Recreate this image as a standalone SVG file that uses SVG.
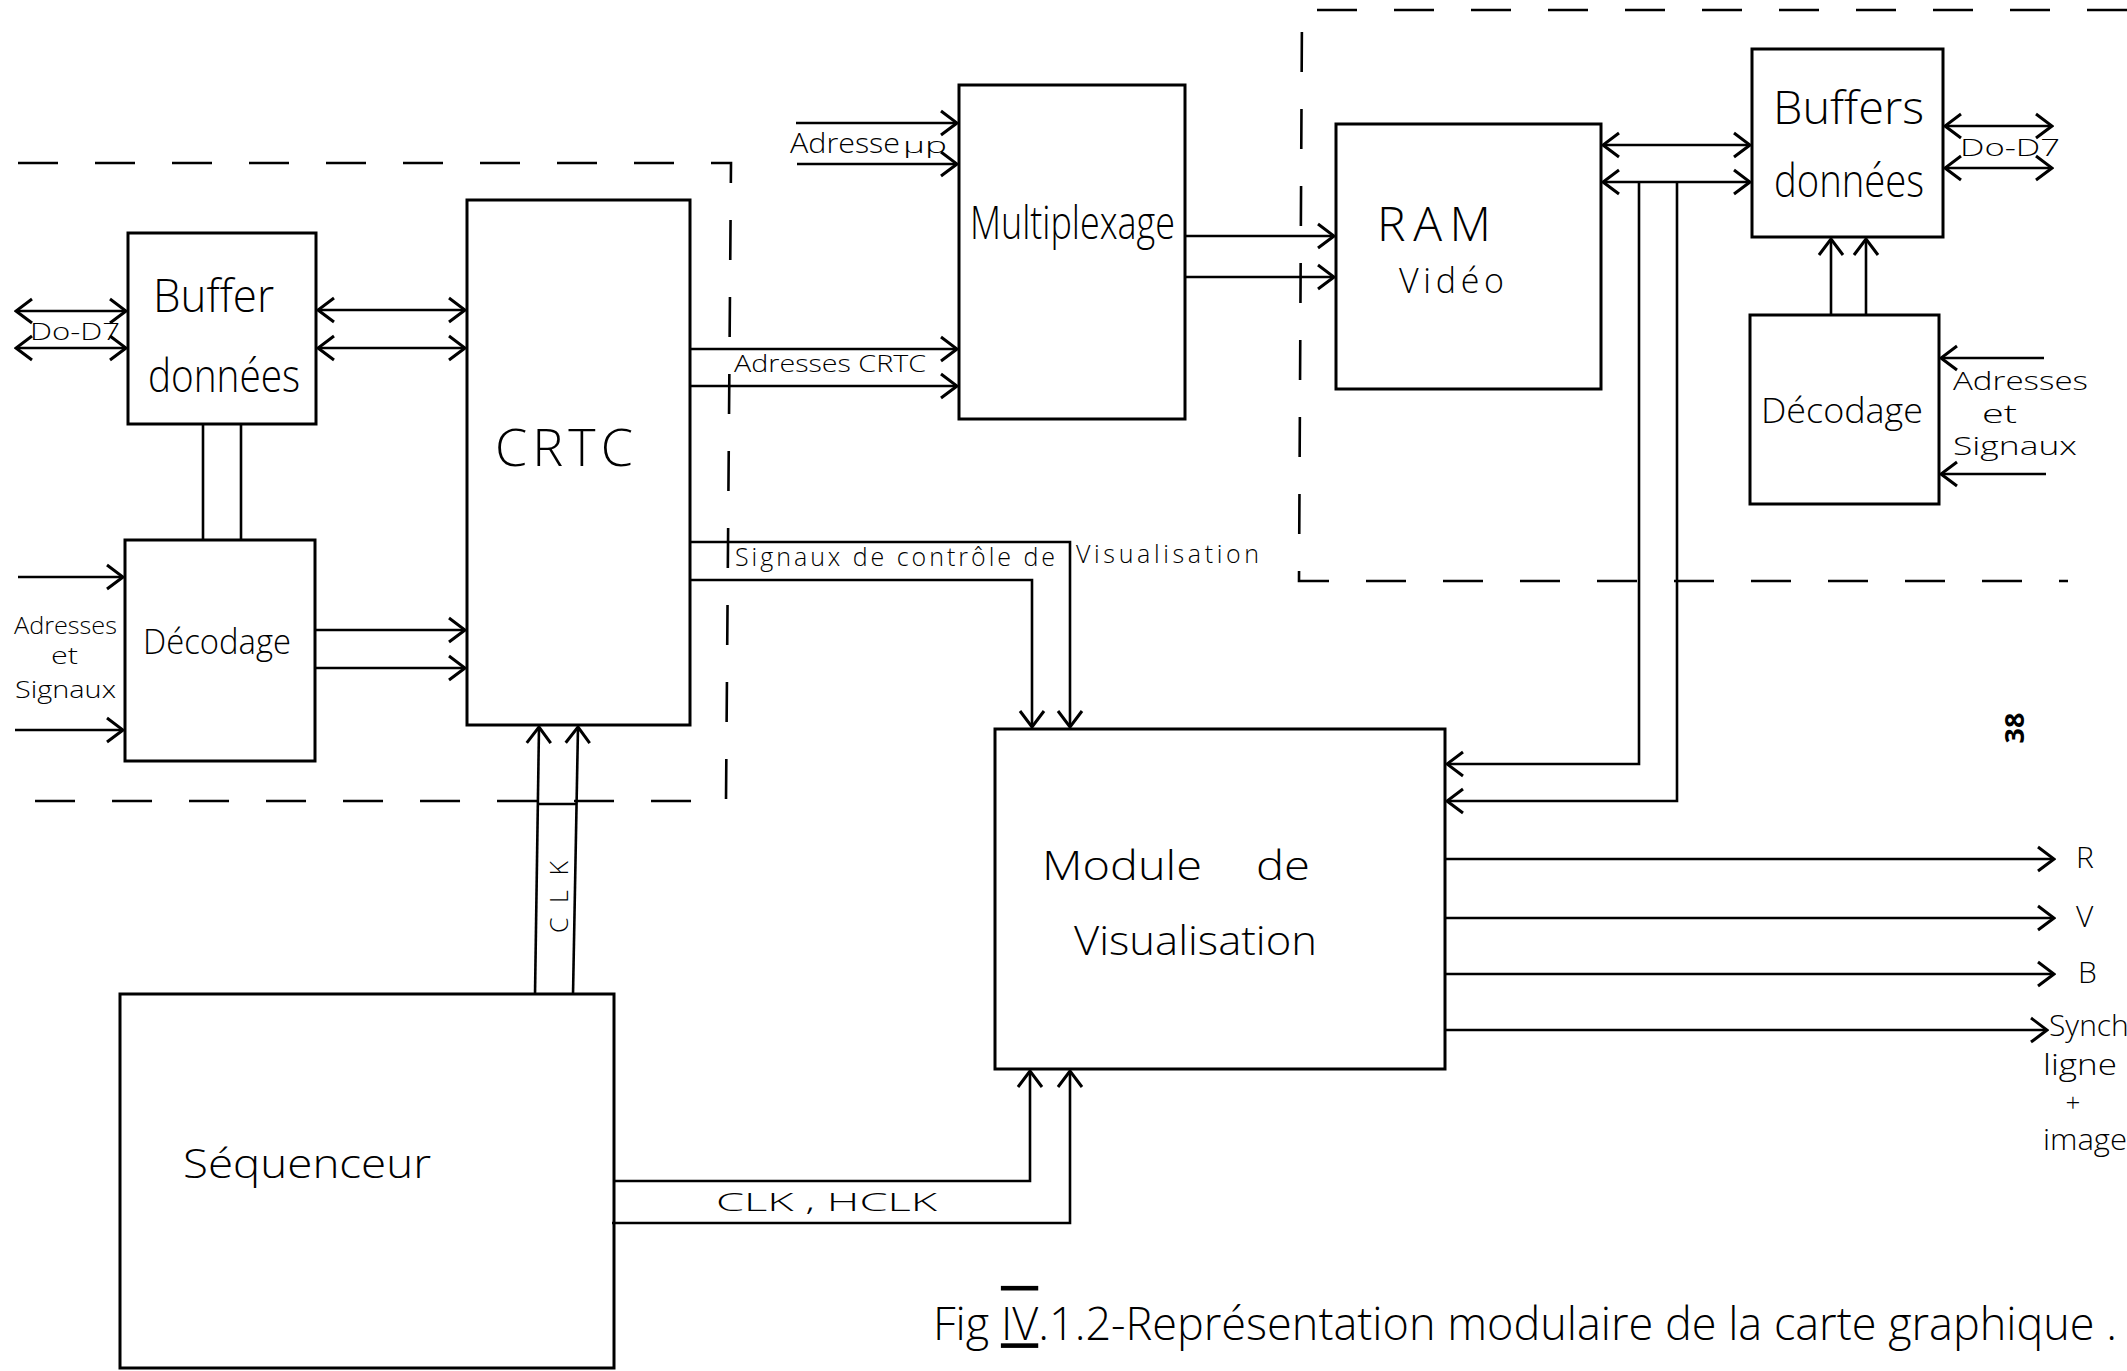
<svg xmlns="http://www.w3.org/2000/svg" width="2127" height="1371" viewBox="0 0 2127 1371">
<style>
.box{fill:none;stroke:#000;stroke-width:3}
.ln{fill:none;stroke:#000;stroke-width:2.6}
.dash{fill:none;stroke:#000;stroke-width:2.6;stroke-dasharray:40 37}
text{font-family:"Open Sans","Lato","Liberation Sans",sans-serif;font-weight:300;fill:#000}
.big{font-size:46px}
.mid{font-size:34px}
.sm{font-size:25px}
.xs{font-size:24px}
</style>
<defs>
<marker id="a" viewBox="-20 -14 22 28" refX="0" refY="0" markerWidth="22" markerHeight="28" markerUnits="userSpaceOnUse" orient="auto-start-reverse">
<path d="M-16,-12 L0,0 L-16,12" fill="none" stroke="#000" stroke-width="3"/>
</marker>
</defs>
<rect width="2127" height="1371" fill="#fff"/>

<g id="borders">
<path class="dash" d="M18,163 L731,163 L726,801 L10,801"/>
<path class="dash" d="M2127,10 L1302,10 L1299,581 L2068,581"/>
</g>

<g id="connectors">
<line class="ln" x1="16" y1="311" x2="126" y2="311" marker-start="url(#a)" marker-end="url(#a)"/>
<line class="ln" x1="16" y1="348" x2="126" y2="348" marker-start="url(#a)" marker-end="url(#a)"/>
<line class="ln" x1="318" y1="310" x2="465" y2="310" marker-start="url(#a)" marker-end="url(#a)"/>
<line class="ln" x1="318" y1="348" x2="465" y2="348" marker-start="url(#a)" marker-end="url(#a)"/>
<line class="ln" x1="203" y1="424" x2="203" y2="540"/>
<line class="ln" x1="241" y1="424" x2="241" y2="540"/>
<line class="ln" x1="18" y1="577" x2="123" y2="577" marker-end="url(#a)"/>
<line class="ln" x1="15" y1="730" x2="123" y2="730" marker-end="url(#a)"/>
<line class="ln" x1="315" y1="630" x2="465" y2="630" marker-end="url(#a)"/>
<line class="ln" x1="315" y1="668" x2="465" y2="668" marker-end="url(#a)"/>
<line class="ln" x1="535" y1="995" x2="539" y2="727" marker-end="url(#a)"/>
<line class="ln" x1="573" y1="995" x2="578" y2="727" marker-end="url(#a)"/>
<line class="ln" x1="537" y1="804" x2="576" y2="804"/>
<line class="ln" x1="690" y1="349" x2="957" y2="349" marker-end="url(#a)"/>
<line class="ln" x1="690" y1="386" x2="957" y2="386" marker-end="url(#a)"/>
<line class="ln" x1="796" y1="123" x2="957" y2="123" marker-end="url(#a)"/>
<line class="ln" x1="797" y1="164" x2="957" y2="164" marker-end="url(#a)"/>
<line class="ln" x1="1185" y1="236" x2="1334" y2="236" marker-end="url(#a)"/>
<line class="ln" x1="1185" y1="277" x2="1334" y2="277" marker-end="url(#a)"/>
<path class="ln" d="M690,542 H1070 V727" marker-end="url(#a)"/>
<path class="ln" d="M690,580 H1032 V727" marker-end="url(#a)"/>
<line class="ln" x1="1603" y1="145" x2="1750" y2="145" marker-start="url(#a)" marker-end="url(#a)"/>
<line class="ln" x1="1603" y1="182" x2="1750" y2="182" marker-start="url(#a)" marker-end="url(#a)"/>
<path class="ln" d="M1639,182 V764 H1447" marker-end="url(#a)"/>
<path class="ln" d="M1677,182 V801 H1447" marker-end="url(#a)"/>
<line class="ln" x1="1945" y1="126" x2="2052" y2="126" marker-start="url(#a)" marker-end="url(#a)"/>
<line class="ln" x1="1945" y1="168" x2="2052" y2="168" marker-start="url(#a)" marker-end="url(#a)"/>
<line class="ln" x1="1831" y1="315" x2="1831" y2="239" marker-end="url(#a)"/>
<line class="ln" x1="1866" y1="315" x2="1866" y2="239" marker-end="url(#a)"/>
<line class="ln" x1="2044" y1="358" x2="1941" y2="358" marker-end="url(#a)"/>
<line class="ln" x1="2046" y1="474" x2="1941" y2="474" marker-end="url(#a)"/>
<path class="ln" d="M614,1181 H1030 V1071" marker-end="url(#a)"/>
<path class="ln" d="M612,1223 H1070 V1071" marker-end="url(#a)"/>
<line class="ln" x1="1445" y1="859" x2="2054" y2="859" marker-end="url(#a)"/>
<line class="ln" x1="1445" y1="918" x2="2054" y2="918" marker-end="url(#a)"/>
<line class="ln" x1="1445" y1="974" x2="2054" y2="974" marker-end="url(#a)"/>
<line class="ln" x1="1445" y1="1030" x2="2047" y2="1030" marker-end="url(#a)"/>
</g>

<g id="buffer-left">
<rect class="box" x="128" y="233" width="188" height="191"/>
<text class="big" x="153" y="312" textLength="121" lengthAdjust="spacingAndGlyphs">Buffer</text>
<text class="big" x="148" y="392" textLength="152" lengthAdjust="spacingAndGlyphs">données</text>
</g>
<g id="decodage-left">
<rect class="box" x="125" y="540" width="190" height="221"/>
<text class="mid" x="143" y="654" textLength="148" lengthAdjust="spacingAndGlyphs">Décodage</text>
</g>
<g id="crtc">
<rect class="box" x="467" y="200" width="223" height="525"/>
<text x="495" y="466" font-size="52" textLength="138" lengthAdjust="spacing">CRTC</text>
</g>
<g id="multiplexage">
<rect class="box" x="959" y="85" width="226" height="334"/>
<text class="big" x="970" y="239" textLength="205" lengthAdjust="spacingAndGlyphs">Multiplexage</text>
</g>
<g id="ram">
<rect class="box" x="1336" y="124" width="265" height="265"/>
<text x="1377" y="241" font-size="48" textLength="114" lengthAdjust="spacing">RAM</text>
<text class="mid" x="1399" y="293" textLength="105" lengthAdjust="spacing">Vidéo</text>
</g>
<g id="buffers-right">
<rect class="box" x="1752" y="49" width="191" height="188"/>
<text class="big" x="1773" y="124" textLength="151" lengthAdjust="spacingAndGlyphs">Buffers</text>
<text class="big" x="1774" y="197" textLength="150" lengthAdjust="spacingAndGlyphs">données</text>
</g>
<g id="decodage-right">
<rect class="box" x="1750" y="315" width="189" height="189"/>
<text class="mid" x="1761" y="423" textLength="162" lengthAdjust="spacingAndGlyphs">Décodage</text>
</g>
<g id="module">
<rect class="box" x="995" y="729" width="450" height="340"/>
<text x="1042" y="880" font-size="40" textLength="160" lengthAdjust="spacingAndGlyphs">Module</text>
<text x="1256" y="880" font-size="40" textLength="54" lengthAdjust="spacingAndGlyphs">de</text>
<text x="1074" y="955" font-size="40" textLength="243" lengthAdjust="spacingAndGlyphs">Visualisation</text>
</g>
<g id="sequenceur">
<rect class="box" x="120" y="994" width="494" height="374"/>
<text x="183" y="1178" font-size="40" textLength="248" lengthAdjust="spacingAndGlyphs">Séquenceur</text>
</g>

<g id="labels">
<text class="xs" x="30" y="340" textLength="90" lengthAdjust="spacingAndGlyphs">Do-D7</text>
<text class="xs" x="14" y="634" textLength="103" lengthAdjust="spacingAndGlyphs">Adresses</text>
<text class="xs" x="51" y="664" textLength="27" lengthAdjust="spacingAndGlyphs">et</text>
<text class="xs" x="15" y="698" textLength="101" lengthAdjust="spacingAndGlyphs">Signaux</text>
<text x="790" y="153" font-size="28" textLength="110" lengthAdjust="spacingAndGlyphs">Adresse</text>
<text x="903" y="153" font-size="22" textLength="44" lengthAdjust="spacingAndGlyphs">µp</text>
<text x="734" y="372" font-size="24" textLength="192" lengthAdjust="spacingAndGlyphs">Adresses CRTC</text>
<text x="735" y="566" font-size="25" textLength="320" lengthAdjust="spacing">Signaux de contrôle de</text>
<text x="1076" y="563" font-size="25" textLength="183" lengthAdjust="spacing">Visualisation</text>
<text class="sm" transform="translate(568,897) rotate(-90)" text-anchor="middle" textLength="72" lengthAdjust="spacing">CLK</text>
<text x="716" y="1211" font-size="26" textLength="221" lengthAdjust="spacingAndGlyphs">CLK , HCLK</text>
<text class="xs" x="1960" y="156" textLength="100" lengthAdjust="spacingAndGlyphs">Do-D7</text>
<text class="sm" x="1953" y="390" textLength="135" lengthAdjust="spacingAndGlyphs">Adresses</text>
<text class="sm" x="1982" y="423" textLength="35" lengthAdjust="spacingAndGlyphs">et</text>
<text class="sm" x="1953" y="455" textLength="124" lengthAdjust="spacingAndGlyphs">Signaux</text>
<text x="2076" y="868" font-size="30">R</text>
<text x="2076" y="927" font-size="30">V</text>
<text x="2078" y="983" font-size="30">B</text>
<text x="2049" y="1036" font-size="30">Synch</text>
<text x="2043" y="1075" font-size="30" textLength="74" lengthAdjust="spacingAndGlyphs">ligne</text>
<text x="2073" y="1112" font-size="26" text-anchor="middle">+</text>
<text x="2043" y="1150" font-size="30" textLength="84" lengthAdjust="spacingAndGlyphs">image</text>
<text transform="translate(2024,728) rotate(-90)" text-anchor="middle" font-size="27" style="font-weight:700">38</text>
<text transform="translate(933,1340) scale(0.8,1)" font-size="46" textLength="1480" lengthAdjust="spacingAndGlyphs">Fig <tspan text-decoration="overline underline">IV</tspan>.1.2-Représentation  modulaire de la carte graphique .</text>
</g>
</svg>
